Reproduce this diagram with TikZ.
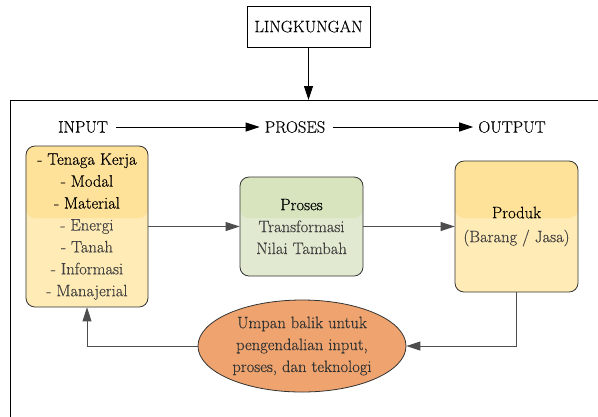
\documentclass[tikz,border=0pt]{standalone}
\usepackage{fontspec}
\setmainfont{Latin Modern Roman}[FakeBold=0.3]
\usetikzlibrary{arrows.meta,shapes.geometric}
\definecolor{yelTop}{HTML}{FFE299}
\definecolor{yelBot}{HTML}{FFEBB5}
\definecolor{grnTop}{HTML}{D7E4BD}
\definecolor{grnBot}{HTML}{E1EAD0}
\definecolor{orng}{HTML}{EFA46F}
\definecolor{lineGray}{HTML}{4D4D4D}
\definecolor{txtGray}{HTML}{404040}
\begin{document}
\begin{tikzpicture}[x=1bp,y=-1bp,
  txt/.style={font=\fontsize{16.6}{22}\selectfont},
  envbox/.style={draw=black, line width=0.8bp, fill=white, minimum width=123bp, minimum height=41bp, inner sep=0pt, txt},
  lbl/.style={inner sep=5bp, txt},
  card/.style={draw=black!80, line width=0.8bp, rounded corners=9bp, inner sep=0pt, align=center, txt},
  glass/.style 2 args={fill=#2, path picture={\fill[#1] (path picture bounding box.north west) rectangle (path picture bounding box.east |- splitline);}},
  fbell/.style={draw=black!80, line width=0.8bp, fill=orng, ellipse, minimum width=208bp, minimum height=92bp, inner sep=0pt, align=center, txt, text=black!80},
  blk/.style={-{Triangle[length=14bp,width=9bp]}, line width=0.9bp, black},
  gry/.style={-{Triangle[length=14bp,width=9bp]}, line width=0.9bp, lineGray}
]
\useasboundingbox (0,0) rectangle (598,416);
\clip (0,0) rectangle (598,416);
\fill[white] (0,0) rectangle (598,416);
\coordinate (splitline) at (0,218);
\coordinate (frameTop) at (308.5,100);

% outer frame
\draw[black, line width=0.9bp] (10,100) rectangle (650,470);

% environment
\node[envbox] (env) at (308.5,26.5) {LINGKUNGAN};
\draw[blk] (env.south) -- (frameTop);

% headings
\node[lbl] (inp) at (83,127) {INPUT};
\node[lbl] (pro) at (295,127) {PROSES};
\node[lbl] (out) at (512,127) {OUTPUT};
\draw[blk, shorten <=3bp] (inp) -- (pro);
\draw[blk, shorten <=3bp] (pro) -- (out);

% boxes
\node[card, glass={yelTop}{yelBot}, minimum width=122bp, minimum height=161bp] (inbox) at (87,226.5)
  {- Tenaga Kerja\\ - Modal\\ - Material\\ \textcolor{txtGray}{- Energi}\\ \textcolor{txtGray}{- Tanah}\\ \textcolor{txtGray}{- Informasi}\\ \textcolor{txtGray}{- Manajerial}};
\node[card, glass={grnTop}{grnBot}, minimum width=123bp, minimum height=99bp] (probox) at (301.5,226.5)
  {Proses\\ \textcolor{txtGray}{Transformasi}\\ \textcolor{txtGray}{Nilai Tambah}};
\node[card, glass={yelTop}{yelBot}, minimum width=123bp, minimum height=131bp] (prodbox) at (516.5,226.5)
  {Produk\\[2bp] \textcolor{txtGray}{(Barang / Jasa)}};

% feedback
\node[fbell] (fb) at (302,346) {Umpan balik untuk\\ pengendalian input,\\ proses, dan teknologi};

% connectors
\draw[gry] (inbox.east) -- (probox.west);
\draw[gry] (probox.east) -- (prodbox.west);
\draw[gry] (prodbox.south) |- (fb.east);
\draw[gry] (fb.west) -| (inbox.south);
\end{tikzpicture}
\end{document}
